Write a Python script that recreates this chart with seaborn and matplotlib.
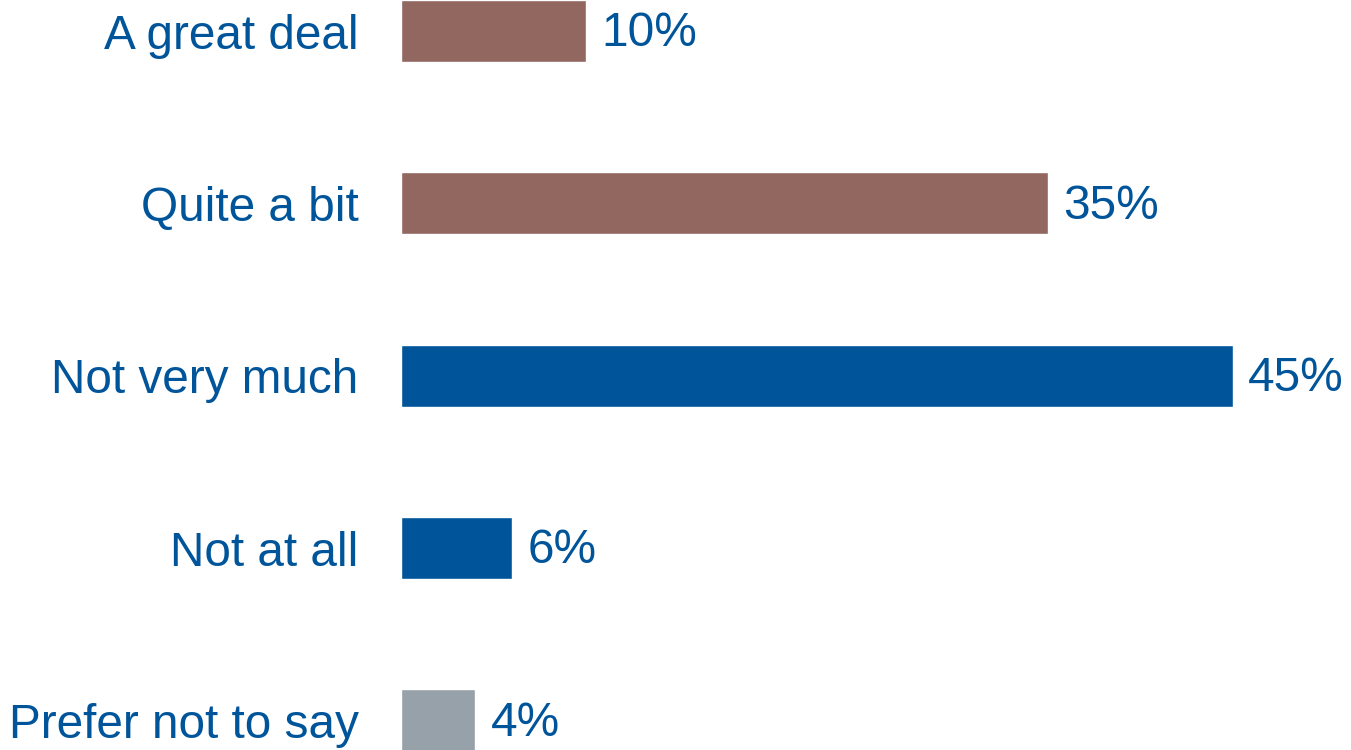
import matplotlib
matplotlib.use("Agg")
import matplotlib.pyplot as plt
import seaborn as sns
import pandas as pd

categories = ["A great deal", "Quite a bit", "Not very much", "Not at all", "Prefer not to say"]
values = [10, 35, 45, 6, 4]
colors = ["#926760", "#926760", "#00559A", "#00559A", "#97A1AA"]
text_color = "#00559A"

sns.set_theme(style="white")
plt.rcParams["font.family"] = ["Liberation Sans", "DejaVu Sans"]

df = pd.DataFrame({"category": categories, "value": values})

fig = plt.figure(figsize=(13.51, 7.5), dpi=100)
ax = fig.add_axes([401.5 / 1351, 0, 1 - 401.5 / 1351, 1])

sns.barplot(data=df, y="category", x="value", hue="category",
            palette=dict(zip(categories, colors)), orient="h",
            width=0.36, saturation=1, legend=False, ax=ax)

ax.set_xlim(0, 51.4)
ax.set_ylim(4.171, -0.18)
ax.set_xlabel("")
ax.set_ylabel("")
ax.set_xticks([])
for s in ax.spines.values():
    s.set_visible(False)
ax.tick_params(axis="y", length=0, pad=31, labelsize=34.4, labelcolor=text_color)

for i, v in enumerate(values):
    ax.annotate(f"{v}%", xy=(v, i), xytext=(11, -2), textcoords="offset points",
                ha="left", va="center", fontsize=34.4, color=text_color,
                annotation_clip=False)

fig.savefig("out.png", dpi=100)
